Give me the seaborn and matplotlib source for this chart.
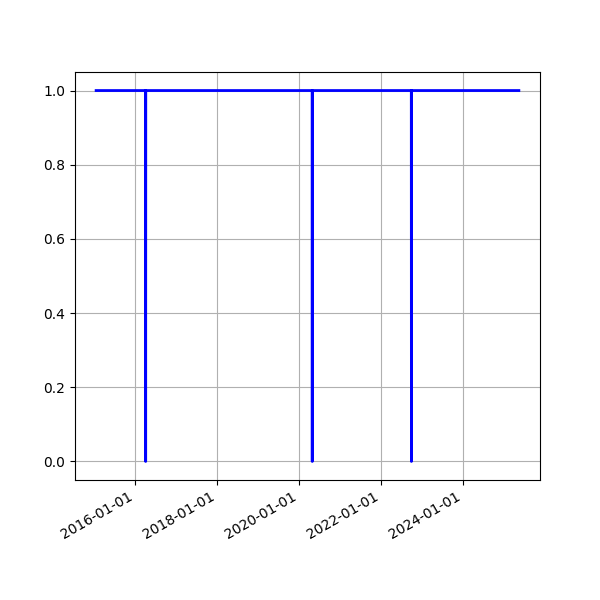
import matplotlib
matplotlib.use("Agg")
import matplotlib.pyplot as plt
import matplotlib.dates as mdates
import pandas as pd
import seaborn as sns

# Daily availability series: 1 everywhere except single-day outages
dates = ["2015-01-15",
         "2016-03-31", "2016-04-01", "2016-04-02",
         "2020-04-26", "2020-04-27", "2020-04-28",
         "2022-09-28", "2022-09-29", "2022-09-30",
         "2025-05-15"]
values = [1, 1, 0, 1, 1, 0, 1, 1, 0, 1, 1]

df = pd.DataFrame({"date": pd.to_datetime(dates), "value": values})

fig, ax = plt.subplots(figsize=(6, 6), dpi=100)
sns.lineplot(data=df, x="date", y="value", estimator=None, color="blue",
             linewidth=2, ax=ax)
ax.set_xlabel("")
ax.set_ylabel("")
ax.grid(True)
ax.xaxis.set_major_formatter(mdates.DateFormatter("%Y-%m-%d"))
fig.autofmt_xdate()

plt.savefig("out.png", dpi=100)
plt.close()
